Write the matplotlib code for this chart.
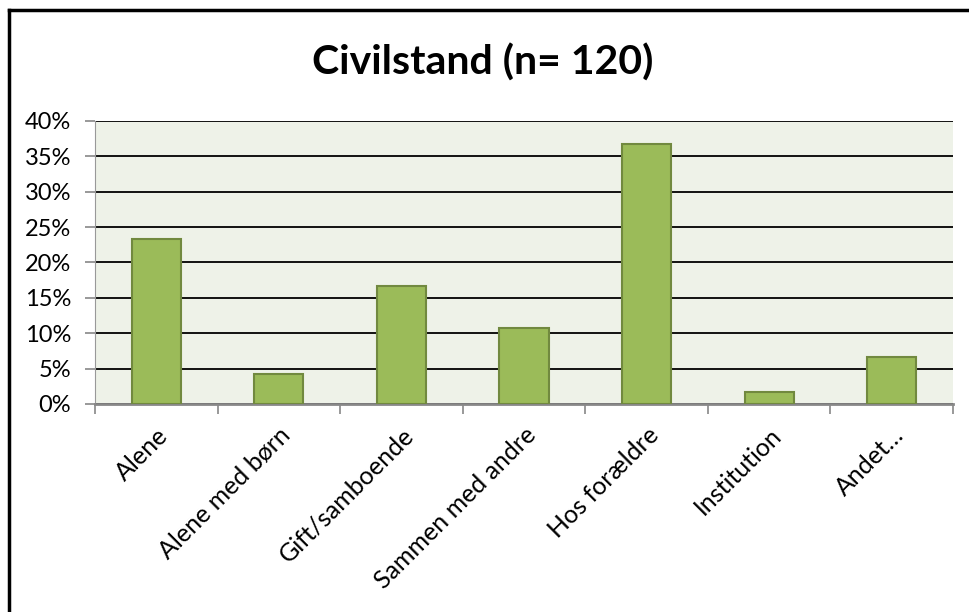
import matplotlib
matplotlib.use("Agg")
import matplotlib.pyplot as plt
from matplotlib.lines import Line2D
from matplotlib.ticker import PercentFormatter
import numpy as np

CATEGORIES = ["Alene", "Alene med børn", "Gift/samboende", "Sammen med andre",
              "Hos forældre", "Institution", "Andet…"]
SHARES = [23.3, 4.2, 16.7, 10.8, 36.7, 1.7, 6.7]  # percent, n = 120
Y_TICKS = [0, 5, 10, 15, 20, 25, 30, 35, 40]

plt.rcParams["font.family"] = ["Lato", "DejaVu Sans"]


def main() -> None:
    fig = plt.figure(figsize=(9.7, 6.12), dpi=100)
    ax = fig.add_axes([0.0979, 0.3399, 0.8846, 0.4624])
    ax.set_facecolor("#EEF2E8")

    x = np.arange(len(CATEGORIES))
    ax.bar(x, SHARES, width=0.4, color="#9BBB59", edgecolor="#71893F",
           linewidth=1.5, zorder=3)

    ax.set_xlim(-0.5, len(CATEGORIES) - 0.5)
    ax.set_ylim(0, 40)
    ax.set_yticks(Y_TICKS)
    ax.yaxis.set_major_formatter(PercentFormatter(decimals=0))
    ax.grid(axis="y", color="black", linewidth=1.3, zorder=1)
    ax.set_axisbelow(True)

    # category labels centred on bars, tick marks on category boundaries
    ax.set_xticks(np.arange(-0.5, len(CATEGORIES)), minor=False)
    ax.set_xticklabels([])
    ax.set_xticks(x, minor=True)
    ax.set_xticklabels(CATEGORIES, minor=True, rotation=45, ha="right",
                       rotation_mode="anchor", fontsize=18)
    ax.tick_params(axis="x", which="minor", length=0, pad=14)
    ax.tick_params(axis="x", which="major", length=7, color="#888888", width=1.2)
    ax.tick_params(axis="y", length=7, color="#888888", width=1.2,
                   labelsize=17, pad=10)

    for side in ["top", "right"]:
        ax.spines[side].set_visible(False)
    ax.spines["left"].set_color("#999999")
    ax.spines["bottom"].set_color("#888888")
    ax.spines["bottom"].set_linewidth(2)

    fig.text(0.498, 0.897, "Civilstand (n= 120)", ha="center", va="center",
             fontsize=29.5, fontweight="bold")

    # chart frame (top and left edges only visible)
    fig.add_artist(Line2D([0.0093, 1.0], [0.984, 0.984], color="black",
                          linewidth=2.5, transform=fig.transFigure))
    fig.add_artist(Line2D([0.0093, 0.0093], [0.0, 0.984], color="black",
                          linewidth=2.5, transform=fig.transFigure))

    fig.savefig("out.png", dpi=100)
    plt.close(fig)


if __name__ == "__main__":
    main()
